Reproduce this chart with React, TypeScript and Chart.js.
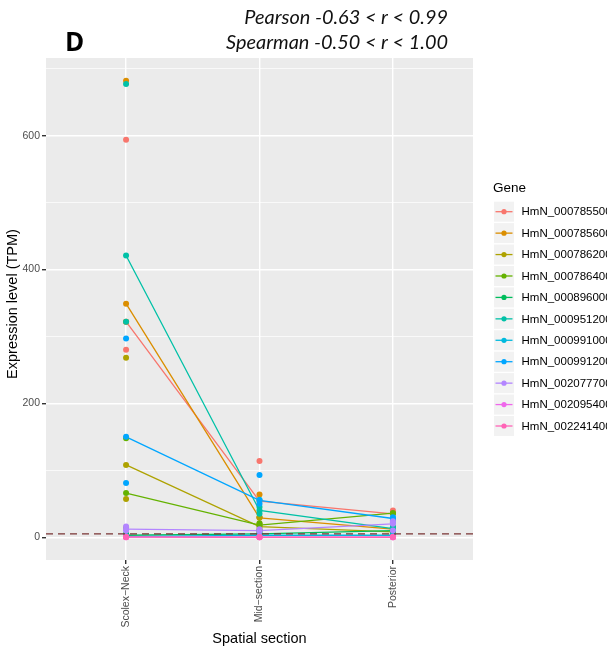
import React, { useEffect, useRef } from "react";
import { Chart, registerables } from "chart.js";

Chart.register(...registerables);

// Spatial sections along the worm body (x axis)
const sections = ["Scolex\u2212Neck", "Mid\u2212section", "Posterior"];

// Genes and their ggplot hue colours
const genes = [
  "HmN_000785500",
  "HmN_000785600",
  "HmN_000786200",
  "HmN_000786400",
  "HmN_000896000",
  "HmN_000951200",
  "HmN_000991000",
  "HmN_000991200",
  "HmN_002077700",
  "HmN_002095400",
  "HmN_002241400",
];
const geneColors = [
  "#F8766D",
  "#DB8E00",
  "#AEA200",
  "#64B200",
  "#00BD5C",
  "#00C1A7",
  "#00BADE",
  "#00A6FF",
  "#B385FF",
  "#EF67EB",
  "#FF63B6",
];

// Replicate expression values (TPM), one triple per gene, per section
const scolexNeck = [
  [594, 322, 280],
  [682, 349, 322],
  [268, 108, 57],
  [148, 66, 14],
  [5, 3, 2],
  [677, 421, 322],
  [2, 1, 1],
  [297, 150, 81],
  [16, 12, 10],
  [1, 0.5, 0],
  [0.5, 0.3, 0],
];
const midSection = [
  [114, 54, 30],
  [64, 29, 20],
  [30, 16, 12],
  [21, 18, 10],
  [8, 5, 3],
  [45, 40, 35],
  [56, 3, 2],
  [93, 55, 50],
  [12, 10, 9],
  [0.5, 0.2, 0],
  [0.3, 0, 0],
];
const posterior = [
  [40, 35, 22],
  [15, 12, 6],
  [12, 8, 4],
  [36, 36, 25],
  [15, 10, 5],
  [15, 13, 10],
  [28, 3, 2],
  [30, 28, 22],
  [24, 20, 10],
  [0.5, 0.3, 0],
  [0.4, 0, 0],
];

const majorTicks = [0, 200, 400, 600];
const allYTicks = [0, 100, 200, 300, 400, 500, 600, 700];
const threshold = 5;

const panelLetter = "D";
const pearsonLabel = "Pearson -0.63 < r < 0.99";
const spearmanLabel = "Spearman -0.50 < r < 1.00";
const xTitle = "Spatial section";
const yTitle = "Expression level (TPM)";
const legendTitle = "Gene";

const bySection = [scolexNeck, midSection, posterior];

function median(vals: number[]): number {
  const s = [...vals].sort((a, b) => a - b);
  const m = Math.floor(s.length / 2);
  return s.length % 2 ? s[m] : (s[m - 1] + s[m]) / 2;
}

const W = 607;
const H = 656;

const decorations = {
  id: "decorations",
  beforeDraw(chart: any) {
    const { ctx, chartArea } = chart;
    ctx.save();
    ctx.fillStyle = "#FFFFFF";
    ctx.fillRect(0, 0, chart.width, chart.height);
    ctx.fillStyle = "#EBEBEB";
    ctx.fillRect(
      chartArea.left,
      chartArea.top,
      chartArea.right - chartArea.left,
      chartArea.bottom - chartArea.top
    );
    ctx.restore();
  },
  afterDatasetsDraw(chart: any) {
    const { ctx, chartArea, scales } = chart;
    const y = scales.y.getPixelForValue(threshold);
    ctx.save();
    ctx.beginPath();
    ctx.rect(chartArea.left, chartArea.top, chartArea.right - chartArea.left, chartArea.bottom - chartArea.top);
    ctx.clip();
    ctx.strokeStyle = "#7A3535";
    ctx.lineWidth = 1.3;
    ctx.setLineDash([7, 5]);
    ctx.beginPath();
    ctx.moveTo(chartArea.left, y);
    ctx.lineTo(chartArea.right, y);
    ctx.stroke();
    ctx.restore();
  },
  afterDraw(chart: any) {
    const { ctx, chartArea } = chart;
    ctx.save();

    // Panel letter
    ctx.fillStyle = "#000000";
    ctx.font = "bold 26px 'Open Sans', sans-serif";
    ctx.textAlign = "left";
    ctx.textBaseline = "alphabetic";
    ctx.fillText(panelLetter, 65, 51);

    // Correlation ranges, right aligned
    ctx.font = "italic 20px Lato, sans-serif";
    const wS = ctx.measureText(spearmanLabel).width;
    const size = (20 * 222) / wS;
    ctx.font = `italic ${size.toFixed(2)}px Lato, sans-serif`;
    ctx.textAlign = "right";
    ctx.fillStyle = "#111111";
    ctx.fillText(pearsonLabel, 448, 24);
    ctx.fillText(spearmanLabel, 448, 49);

    // Axis titles
    ctx.fillStyle = "#000000";
    ctx.font = "14.5px 'Liberation Sans', Arial, sans-serif";
    ctx.textAlign = "center";
    ctx.textBaseline = "alphabetic";
    ctx.fillText(xTitle, (chartArea.left + chartArea.right) / 2, 643);
    ctx.save();
    ctx.translate(17, 304);
    ctx.rotate(-Math.PI / 2);
    ctx.fillText(yTitle, 0, 0);
    ctx.restore();

    // Legend
    ctx.textAlign = "left";
    ctx.textBaseline = "middle";
    ctx.font = "13.5px 'Liberation Sans', Arial, sans-serif";
    ctx.fillText(legendTitle, 493, 188);
    ctx.font = "11.5px 'Liberation Sans', Arial, sans-serif";
    genes.forEach((g, i) => {
      const cy = 211.7 + i * 21.43;
      ctx.fillStyle = "#F2F2F2";
      ctx.fillRect(494, cy - 10, 20, 20);
      ctx.strokeStyle = geneColors[i];
      ctx.lineWidth = 1.3;
      ctx.beginPath();
      ctx.moveTo(495.5, cy);
      ctx.lineTo(512.5, cy);
      ctx.stroke();
      ctx.fillStyle = geneColors[i];
      ctx.beginPath();
      ctx.arc(504, cy, 2.6, 0, Math.PI * 2);
      ctx.fill();
      ctx.fillStyle = "#000000";
      ctx.fillText(g, 521.5, cy + 0.5);
    });

    ctx.restore();
  },
};

export default function App() {
  const canvasRef = useRef<HTMLCanvasElement | null>(null);

  useEffect(() => {
    const canvas = canvasRef.current;
    if (!canvas) return;

    const lineSets = genes.map((g, gi) => ({
      label: g + " median",
      data: sections.map((_, si) => ({ x: si + 1, y: median(bySection[si][gi]) })),
      showLine: true,
      borderColor: geneColors[gi],
      backgroundColor: geneColors[gi],
      borderWidth: 1.3,
      pointRadius: 0,
      pointHoverRadius: 0,
      order: 100 + (genes.length - gi),
    }));

    const pointSets = genes.map((g, gi) => ({
      label: g,
      data: sections.flatMap((_, si) =>
        bySection[si][gi].map((v) => ({ x: si + 1, y: v }))
      ),
      showLine: false,
      backgroundColor: geneColors[gi],
      borderColor: geneColors[gi],
      borderWidth: 0,
      pointRadius: 3,
      order: genes.length - gi,
    }));

    const chart = new Chart(canvas, {
      type: "scatter",
      data: { datasets: [...pointSets, ...lineSets] as any },
      options: {
        responsive: false,
        animation: false,
        devicePixelRatio: 1,
        layout: { padding: { top: 58, left: 0, right: W - 473, bottom: 0 } },
        plugins: {
          legend: { display: false },
          tooltip: { enabled: false },
          title: { display: false },
        },
        scales: {
          x: {
            type: "linear",
            min: 0.4,
            max: 3.6,
            afterBuildTicks: (s: any) => {
              s.ticks = sections.map((_, i) => ({ value: i + 1 }));
            },
            afterFit: (s: any) => {
              s.height = H - 560;
            },
            ticks: {
              autoSkip: false,
              minRotation: 90,
              maxRotation: 90,
              padding: 2,
              color: "#4D4D4D",
              font: { family: "'Liberation Sans', Arial, sans-serif", size: 10.5 },
              callback: (v: any) => sections[Math.round(Number(v)) - 1] ?? "",
            },
            grid: {
              color: "#FFFFFF",
              lineWidth: 1.4,
              tickColor: "#333333",
              tickLength: 4,
              drawTicks: true,
            },
            border: { display: false },
          },
          y: {
            type: "linear",
            min: -34,
            max: 716,
            afterBuildTicks: (s: any) => {
              s.ticks = allYTicks.map((v) => ({ value: v }));
            },
            afterFit: (s: any) => {
              s.width = 46;
            },
            ticks: {
              padding: 2,
              color: "#4D4D4D",
              font: { family: "'Liberation Sans', Arial, sans-serif", size: 10.5 },
              callback: (v: any) => (majorTicks.includes(Number(v)) ? String(v) : ""),
            },
            grid: {
              color: "#FFFFFF",
              lineWidth: (c: any) => (majorTicks.includes(c.tick?.value) ? 1.4 : 0.7),
              tickColor: (c: any) =>
                majorTicks.includes(c.tick?.value) ? "#333333" : "rgba(0,0,0,0)",
              tickLength: 4,
              drawTicks: true,
            },
            border: { display: false },
          },
        },
      },
      plugins: [decorations],
    });

    return () => chart.destroy();
  }, []);

  return (
    <div style={{ position: "fixed", left: 0, top: 0, width: W, height: H, background: "#fff" }}>
      <canvas ref={canvasRef} width={W} height={H} style={{ display: "block" }} />
    </div>
  );
}
